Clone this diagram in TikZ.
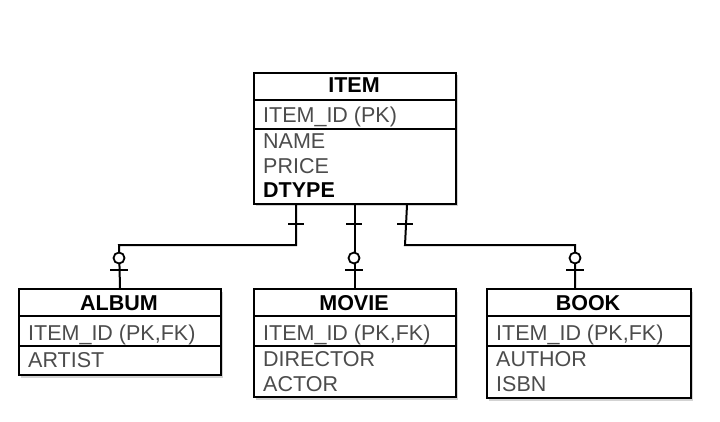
\documentclass[tikz,border=0pt]{standalone}
\usepackage{fontspec}
\setmainfont{Liberation Sans}
\usetikzlibrary{shadows,calc}
\begin{document}
\begin{tikzpicture}[x=1pt,y=-1pt,
  box/.style={draw, line width=2pt, fill=white, rectangle, anchor=north west, inner sep=0pt,
    drop shadow={shadow xshift=1.5pt, shadow yshift=-2.5pt, opacity=0.35, fill=gray}},
  div/.style={line width=2pt},
  conn/.style={line width=2pt},
  hdr/.style={font=\fontsize{21.5}{25}\selectfont\bfseries, anchor=base, text=black},
  attr/.style={font=\fontsize{21.5}{25}\selectfont, anchor=base west, text=black!70, inner sep=0pt},
  battr/.style={font=\fontsize{21.5}{25}\selectfont\bfseries, anchor=base west, text=black, inner sep=0pt},
  zcirc/.style={circle, draw, line width=1.8pt, fill=white, minimum size=11pt, inner sep=0pt}
]
\useasboundingbox (0,0) rectangle (720,422);

% ITEM
\node[box, minimum width=202pt, minimum height=131pt] (item) at (253,72) {};
\draw[div] (253,100) -- (455,100);
\draw[div] (253,129) -- (455,129);
\node[hdr] (itemh) at (354,93) {ITEM};
\node[attr] (itemid) at (263,123) {ITEM\_ID (PK)};
\node[attr] (itemname) at (263,149) {NAME};
\node[attr] (itemprice) at (263,174) {PRICE};
\node[battr] (itemdtype) at (263,198) {DTYPE};

% ALBUM
\node[box, minimum width=202pt, minimum height=86pt] (album) at (18,288) {};
\draw[div] (18,316) -- (220,316);
\draw[div] (18,346) -- (220,346);
\node[hdr] (albumh) at (119,310) {ALBUM};
\node[attr] (albumid) at (28,340) {ITEM\_ID (PK,FK)};
\node[attr] (albumart) at (28,367) {ARTIST};

% MOVIE
\node[box, minimum width=202pt, minimum height=108pt] (movie) at (253,288) {};
\draw[div] (253,316) -- (455,316);
\draw[div] (253,346) -- (455,346);
\node[hdr] (movieh) at (354,310) {MOVIE};
\node[attr] (movieid) at (263,340) {ITEM\_ID (PK,FK)};
\node[attr] (moviedir) at (263,366) {DIRECTOR};
\node[attr] (movieact) at (263,391) {ACTOR};

% BOOK
\node[box, minimum width=204pt, minimum height=109pt] (book) at (486,288) {};
\draw[div] (486,316) -- (690,316);
\draw[div] (486,346) -- (690,346);
\node[hdr] (bookh) at (588,310) {BOOK};
\node[attr] (bookid) at (496,340) {ITEM\_ID (PK,FK)};
\node[attr] (bookauth) at (496,366) {AUTHOR};
\node[attr] (bookisbn) at (496,391) {ISBN};

% connectors
\coordinate (c1) at (296,245);
\coordinate (c3) at (405,245);
\draw[conn] (item.south west) ++(43,0) -- (c1) -- (119,245) -- (album.north);
\draw[conn] (item.south) -- (movie.north);
\draw[conn] (item.south east) ++(-50,0) -- (c3) -- (575,245) -- (575,288);

% one-and-only ticks near ITEM
\draw[conn] (288,224) -- (304,224);
\draw[conn] (346,224) -- (362,224);
\draw[conn] (397,224) -- (413,224);

% zero-or-one near children
\foreach \xx in {119,354,575} {
  \draw[conn] (\xx-9,270) -- (\xx+9,270);
  \node[zcirc] at (\xx,258) {};
}
\end{tikzpicture}
\end{document}
